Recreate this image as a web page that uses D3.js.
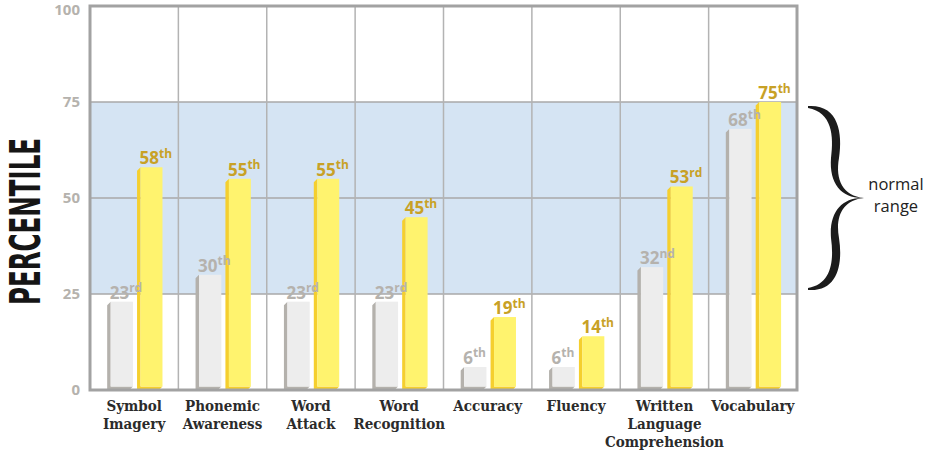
<!DOCTYPE html>
<html>
<head>
<meta charset="utf-8">
<script src="https://cdn.jsdelivr.net/npm/d3@7/dist/d3.min.js"></script>
<style>
  html, body { margin: 0; padding: 0; background: #fff; }
  svg { display: block; }
</style>
</head>
<body>
<svg id="chart" width="936" height="456"></svg>
<script>
// Reading subtests and percentile scores (first and second testing)
const categories = ["Symbol Imagery", "Phonemic Awareness", "Word Attack", "Word Recognition",
                    "Accuracy", "Fluency", "Written Language Comprehension", "Vocabulary"];
const categoryLines = [["Symbol", "Imagery"], ["Phonemic", "Awareness"], ["Word", "Attack"],
                       ["Word", "Recognition"], ["Accuracy"], ["Fluency"],
                       ["Written", "Language", "Comprehension"], ["Vocabulary"]];
const beforeScores = [23, 30, 23, 23, 6, 6, 32, 68];
const afterScores  = [58, 55, 55, 45, 19, 14, 53, 75];
const yTicks = [0, 25, 50, 75, 100];
const normalRange = [25, 75];

const svg = d3.select("#chart");
const plot = { left: 90, right: 797, top: 6, bottom: 390 };

const x = d3.scaleBand().domain(categories).range([plot.left, plot.right]).padding(0);
const y = d3.scaleLinear().domain([0, 100]).range([plot.bottom, plot.top]);
const bw = x.bandwidth();

function ordinalSuffix(n) {
  const v = n % 100;
  if (v >= 11 && v <= 13) return "th";
  switch (n % 10) { case 1: return "st"; case 2: return "nd"; case 3: return "rd"; default: return "th"; }
}

// normal range band
svg.append("rect")
  .attr("x", plot.left).attr("width", plot.right - plot.left)
  .attr("y", y(normalRange[1])).attr("height", y(normalRange[0]) - y(normalRange[1]))
  .attr("fill", "#d5e4f3");

// horizontal grid
svg.append("g").selectAll("line").data(yTicks.filter(t => t > 0 && t < 100)).join("line")
  .attr("x1", plot.left).attr("x2", plot.right)
  .attr("y1", d => y(d)).attr("y2", d => y(d))
  .attr("stroke", "#a9a9a9").attr("stroke-width", 1.5);

// vertical grid at category boundaries
svg.append("g").selectAll("line").data(categories.slice(1)).join("line")
  .attr("x1", d => x(d)).attr("x2", d => x(d))
  .attr("y1", plot.top).attr("y2", plot.bottom)
  .attr("stroke", "#b3b3b3").attr("stroke-width", 1.5);

// y tick labels
svg.append("g").selectAll("text").data(yTicks).join("text")
  .attr("x", 80).attr("y", d => y(d)).attr("dy", d => d === 100 ? "0.62em" : "0.36em")
  .attr("text-anchor", "end")
  .attr("font-family", "'Open Sans', sans-serif").attr("font-weight", 700).attr("font-size", 15)
  .attr("fill", "#b5b2ad")
  .text(d => d);

// extruded bar: darker side face offset down-left, lighter front face
const depth = 3.5;
function drawBar(g, x0, w, v, front, side) {
  const top = y(v), base = y(0);
  const x1 = x0 + w;
  g.append("path")
    .attr("d", `M${x0},${top} L${x0 - depth},${top + depth} L${x0 - depth},${base} L${x1 - depth},${base} L${x1},${base - depth} L${x0},${base - depth} Z`)
    .attr("fill", side);
  g.append("rect")
    .attr("x", x0).attr("y", top).attr("width", w).attr("height", base - depth - top)
    .attr("fill", front);
}

function drawValueLabel(g, x0, v, color) {
  const t = g.append("text")
    .attr("x", x0 - 1).attr("y", y(v) - 3)
    .attr("font-family", "'Open Sans', sans-serif").attr("font-weight", 700)
    .attr("font-size", 17).attr("fill", color);
  t.append("tspan").text(v);
  t.append("tspan").attr("font-size", 12).attr("dy", -6.5).text(ordinalSuffix(v));
}

const bars = svg.append("g");
categories.forEach((c, i) => {
  const gx = x(c) + bw * 0.234;
  const yx = x(c) + bw * 0.572;
  drawBar(bars, gx, bw * 0.252, beforeScores[i], "#ededed", "#b4b1ac");
  drawBar(bars, yx, bw * 0.248, afterScores[i], "#fff36e", "#f5cf2e");
  drawValueLabel(bars, gx, beforeScores[i], "#b5b2ad");
  drawValueLabel(bars, yx, afterScores[i], "#c8a126");
});

// plot frame
svg.append("rect")
  .attr("x", plot.left).attr("y", plot.top)
  .attr("width", plot.right - plot.left).attr("height", plot.bottom - plot.top)
  .attr("fill", "none").attr("stroke", "#a2a2a2").attr("stroke-width", 3);

// category labels
const xl = svg.append("g");
categories.forEach((c, i) => {
  const t = xl.append("text")
    .attr("x", x(c) + bw / 2).attr("y", 411)
    .attr("text-anchor", "middle")
    .attr("font-family", "'DejaVu Serif Condensed', 'DejaVu Serif', serif")
    .attr("font-weight", 700).attr("font-size", 15).attr("fill", "#2b2b2b");
  categoryLines[i].forEach((line, k) => {
    t.append("tspan").attr("x", x(c) + bw / 2).attr("dy", k === 0 ? 0 : 18).text(line);
  });
});

// y axis title
svg.append("text")
  .attr("transform", "translate(40,221.5) rotate(-90)")
  .attr("text-anchor", "middle")
  .attr("font-family", "'DejaVu Sans Condensed', 'DejaVu Sans', sans-serif")
  .attr("font-weight", 700).attr("font-size", 43)
  .attr("textLength", 167).attr("lengthAdjust", "spacingAndGlyphs")
  .attr("fill", "#151515")
  .text("PERCENTILE");

// brace spanning the normal range
const mid = (y(normalRange[0]) + y(normalRange[1])) / 2;
const upper = `M808,${y(75) + 4}
  C838,${y(75) + 2} 843,${y(75) + 30} 839,${mid - 40}
  C835,${mid - 18} 843,${mid - 2} 864,${mid}
  C842,${mid + 1} 829,${mid - 14} 831,${mid - 40}
  C834,${y(75) + 34} 832,${y(75) + 10} 808,${y(75) + 6} Z`;
const brace = svg.append("g").attr("fill", "#1c1c1c");
brace.append("path").attr("d", upper);
brace.append("path").attr("d", upper).attr("transform", `translate(0,${2 * mid}) scale(1,-1)`);

const nr = svg.append("text")
  .attr("text-anchor", "middle")
  .attr("font-family", "'Open Sans', sans-serif").attr("font-size", 16.5).attr("fill", "#222");
nr.append("tspan").attr("x", 896).attr("y", 190).text("normal");
nr.append("tspan").attr("x", 896).attr("y", 212).text("range");
</script>
</body>
</html>
